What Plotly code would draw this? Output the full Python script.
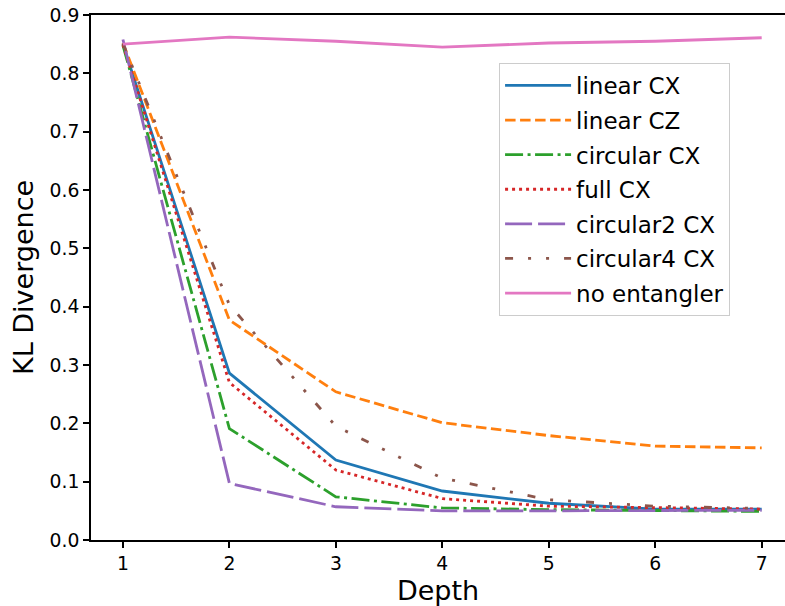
import plotly.graph_objects as go

depth = [1, 2, 3, 4, 5, 6, 7]

linear_cx = [0.850, 0.286, 0.137, 0.084, 0.063, 0.053, 0.053]
linear_cz = [0.852, 0.377, 0.254, 0.201, 0.179, 0.161, 0.158]
circular_cx = [0.848, 0.191, 0.074, 0.055, 0.052, 0.051, 0.049]
full_cx = [0.849, 0.270, 0.120, 0.071, 0.058, 0.055, 0.053]
circular2_cx = [0.858, 0.097, 0.057, 0.050, 0.050, 0.050, 0.051]
circular4_cx = [0.851, 0.403, 0.195, 0.106, 0.069, 0.058, 0.054]
no_entangler = [0.850, 0.862, 0.855, 0.845, 0.852, 0.855, 0.861]

series = [
    ("linear CX", linear_cx, "#1f77b4", "solid"),
    ("linear CZ", linear_cz, "#ff7f0e", "10.5px,4.5px"),
    ("circular CX", circular_cx, "#2ca02c", "18px,4.5px,3px,4.5px"),
    ("full CX", full_cx, "#d62728", "3px,4px"),
    ("circular2 CX", circular2_cx, "#9467bd", "27px,6px"),
    ("circular4 CX", circular4_cx, "#8c564b", "8px,15px,3px,15px,3px,15px"),
    ("no entangler", no_entangler, "#e377c2", "solid"),
]

fig = go.Figure()
for name, vals, col, dash in series:
    fig.add_trace(go.Scatter(x=depth, y=vals, mode="lines", name=name,
                             legendgroup=name,
                             line=dict(color=col, width=2.8, dash=dash)))

# x axis runs off the right edge like the cropped original
font = "DejaVu Sans, sans-serif"
fig.update_layout(
    width=785, height=606,
    margin=dict(l=91, r=0, t=15, b=66),
    plot_bgcolor="white", paper_bgcolor="white",
    font=dict(family=font, size=18.8, color="black"),
    legend=dict(x=0.588, y=0.9086, xanchor="left", yanchor="top",
                bgcolor="rgba(255,255,255,0.8)", bordercolor="#cccccc",
                borderwidth=1, font=dict(size=23), tracegroupgap=1.7,
                itemwidth=66, traceorder="grouped"),
    xaxis=dict(range=[0.7, 7.219], tickvals=depth, showgrid=False,
               zeroline=False, showline=True, linecolor="black", linewidth=1.5,
               mirror=True, ticks="outside", ticklen=6, tickcolor="black",
               tickwidth=1.5,
               title=dict(text="Depth", font=dict(size=27), standoff=8)),
    yaxis=dict(range=[0, 0.9], dtick=0.1, tickformat=".1f", showgrid=False,
               zeroline=False, showline=True, linecolor="black", linewidth=1.5,
               ticks="outside", ticklen=6, tickcolor="black", tickwidth=1.5,
               title=dict(text="KL Divergence", font=dict(size=27), standoff=8)),
)

# drop the default body margin so the figure sits at the page corner
fig.write_html("out.html", config={"displayModeBar": False},
               post_script="document.body.style.margin='0';document.body.style.overflow='hidden';")
